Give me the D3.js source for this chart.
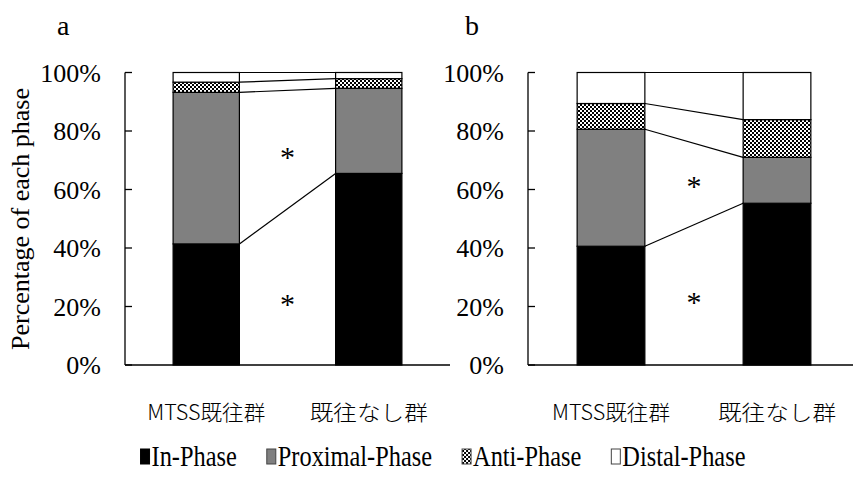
<!DOCTYPE html>
<html>
<head>
<meta charset="utf-8">
<script src="https://cdnjs.cloudflare.com/ajax/libs/d3/7.8.5/d3.min.js"></script>
<style>
  body { margin: 0; background: #fff; }
  svg { display: block; }
  text { font-family: "Liberation Serif", "Times New Roman", serif; fill: #000; }
  .cat { font-family: "Noto Sans CJK JP", sans-serif; font-weight: 300; }
</style>
</head>
<body>
<div id="chart"></div>
<script>
// data
var categories = ['MTSS既往群', '既往なし群'];
var phases = ['In-Phase', 'Proximal-Phase', 'Anti-Phase', 'Distal-Phase'];
var inPhaseA = [41.4, 65.5];
var proximalA = [51.8, 29.1];
var antiA = [3.5, 3.3];
var distalA = [3.3, 2.1];
var inPhaseB = [40.6, 55.3];
var proximalB = [40.0, 15.7];
var antiB = [8.8, 12.9];
var distalB = [10.6, 16.1];
var yTicks = [0, 20, 40, 60, 80, 100];
var starsA = [72.8, 22.6];
var starsB = [62.9, 23.2];

var W = 853, H = 486;
var svg = d3.select('#chart').append('svg').attr('width', W).attr('height', H);

// pattern for Anti-Phase
var defs = svg.append('defs');
var pat = defs.append('pattern').attr('id', 'dots')
  .attr('patternUnits', 'userSpaceOnUse').attr('width', 4).attr('height', 4);
pat.append('rect').attr('width', 4).attr('height', 4).attr('fill', '#fff');
pat.append('rect').attr('x', 0).attr('y', 0).attr('width', 2).attr('height', 2).attr('fill', '#000');
pat.append('rect').attr('x', 2).attr('y', 2).attr('width', 2).attr('height', 2).attr('fill', '#000');

var fills = ['#000', '#808080', 'url(#dots)', '#fff'];

var y = d3.scaleLinear().domain([0, 100]).range([365, 72.5]);

var panel = function(opt){
  var series = opt.series;
  var x = d3.scaleBand().domain(categories).range([opt.x0, opt.x1]);
  var bw = x.bandwidth() * 0.408;
  var g = svg.append('g');

  // stack
  var rows = categories.map(function(c, i){
    var r = {cat: c};
    phases.forEach(function(p, j){ r[p] = series[j][i]; });
    return r;
  });
  var stacked = d3.stack().keys(phases)(rows);

  stacked.forEach(function(layer, j){
    g.selectAll('.s' + j).data(layer).enter().append('rect')
      .attr('x', function(d){ return x(d.data.cat) + x.bandwidth()/2 - bw/2; })
      .attr('y', function(d){ return y(d[1]); })
      .attr('width', bw)
      .attr('height', function(d){ return y(d[0]) - y(d[1]); })
      .attr('fill', fills[j])
      .attr('stroke', '#000')
      .attr('stroke-width', 1.2);
    // series lines
    g.append('line')
      .attr('x1', x(categories[0]) + x.bandwidth()/2 + bw/2)
      .attr('x2', x(categories[1]) + x.bandwidth()/2 - bw/2)
      .attr('y1', y(layer[0][1]))
      .attr('y2', y(layer[1][1]))
      .attr('stroke', '#000').attr('stroke-width', 1.2);
  });

  // axes
  g.append('line').attr('x1', opt.x0).attr('x2', opt.x0)
    .attr('y1', y(100)).attr('y2', y(0)).attr('stroke', '#000').attr('stroke-width', 1.3);
  g.append('line').attr('x1', opt.x0).attr('x2', opt.x1)
    .attr('y1', y(0)).attr('y2', y(0)).attr('stroke', '#000').attr('stroke-width', 1.3);
  yTicks.forEach(function(t){
    g.append('line').attr('x1', opt.x0).attr('x2', opt.x0 + 7)
      .attr('y1', y(t)).attr('y2', y(t)).attr('stroke', '#000').attr('stroke-width', 1.3);
    g.append('text').attr('x', opt.x0 - 24).attr('y', y(t) + 9)
      .attr('text-anchor', 'end').style('font-size', '26px').text(t + '%');
  });

  categories.forEach(function(c){
    var t = g.append('text').attr('class', 'cat')
      .attr('x', x(c) + x.bandwidth()/2).attr('y', 420)
      .attr('text-anchor', 'middle').style('font-size', '21px').text(c);
    t.attr('textLength', 118).attr('lengthAdjust', 'spacingAndGlyphs');
  });

  opt.stars.forEach(function(s){
    g.append('text').attr('x', (x(categories[0]) + x(categories[1]) + x.bandwidth())/2)
      .attr('y', y(s) + 15).attr('text-anchor', 'middle')
      .style('font-size', '30px').text('*');
  });

  g.append('text').attr('x', opt.lx).attr('y', 35).style('font-size', '28px').text(opt.label);
};

panel({series: [inPhaseA, proximalA, antiA, distalA], x0: 125, x1: 450, stars: starsA, label: 'a', lx: 57});
panel({series: [inPhaseB, proximalB, antiB, distalB], x0: 528, x1: 860, stars: starsB, label: 'b', lx: 465});

// y title
svg.append('text').attr('transform', 'translate(29,219) rotate(-90)')
  .attr('text-anchor', 'middle').style('font-size', '26px').text('Percentage of each phase');

// legend
var leg = svg.append('g');
var lx = 0;
phases.forEach(function(p, i){
  var it = leg.append('g').attr('transform', 'translate(' + lx + ',0)');
  it.append('rect').attr('x', 0).attr('y', -17).attr('width', 9).attr('height', 15)
    .attr('fill', fills[i]).attr('stroke', i == 0 ? '#000' : '#444').attr('stroke-width', 1);
  var t = it.append('text').attr('x', 11).attr('y', 0).style('font-size', '29px').text(p);
  var w = t.node().getComputedTextLength() * 0.84;
  t.attr('textLength', w).attr('lengthAdjust', 'spacingAndGlyphs');
  lx += 11 + w + 30;
});
lx -= 30;
leg.attr('transform', 'translate(' + (443 - lx/2) + ',466)');
</script>
</body>
</html>
